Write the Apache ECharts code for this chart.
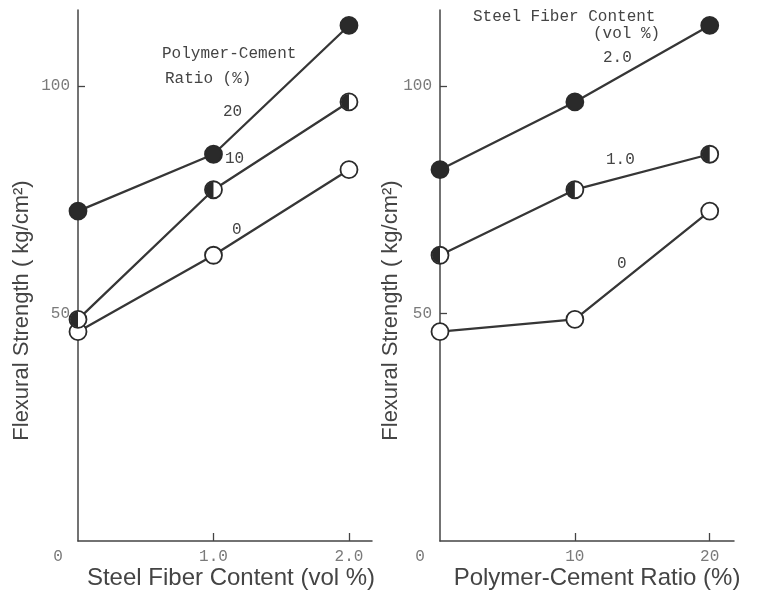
<!DOCTYPE html>
<html>
<head>
<meta charset="utf-8">
<script src="https://cdn.jsdelivr.net/npm/echarts@6/dist/echarts.min.js"></script>
<style>
  html, body { margin: 0; padding: 0; background: #fff; }
  #chart { width: 759px; height: 594px; }
</style>
</head>
<body>
<div id="chart"></div>
<script>
// Steel fiber content (vol %) and polymer-cement ratio (%)
const fiberContent = [0, 1.0, 2.0];
const polymerRatio = [0, 10, 20];

// Flexural strength (kg/cm²) for each polymer-cement ratio, over fiber content 0 / 1.0 / 2.0
const strengthPC0  = [46.0, 62.8, 81.6];
const strengthPC10 = [48.7, 77.2, 96.5];
const strengthPC20 = [72.5, 85.0, 113.3];

const yTickValues = [50, 100];
const fiberTickValues = [0, 1, 2];
const ratioTickValues = [0, 10, 20];

// same measurements grouped by fiber content, over polymer-cement ratio 0 / 10 / 20
const byRatio = [strengthPC0, strengthPC10, strengthPC20];
const strengthSF = fiberContent.map((_, j) => byRatio.map(row => row[j]));

const INK = '#2a2a2a';
const LINE = '#363636';
const MONO = '"Liberation Mono", "DejaVu Sans Mono", monospace';
const SANS = '"Liberation Sans Narrow", "Liberation Sans", sans-serif';
const MARK = 17;
// left half of a circle; the hair-thin stub at x=20 keeps the symbol box square
const HALF = 'path://M10,0 A10,10 0 0 0 10,20 Z M20,10 L20.01,10';

function lineSeries(xs, ys, kind, gi) {
  const pts = xs.map((x, i) => [x, ys[i]]);
  const out = [{
    type: 'line', xAxisIndex: gi, yAxisIndex: gi, data: pts,
    symbol: 'circle', symbolSize: MARK, showAllSymbol: true,
    lineStyle: { color: LINE, width: 2.3 },
    itemStyle: { color: kind === 'full' ? INK : '#fff', borderColor: INK, borderWidth: 1.8, opacity: 1 },
    emphasis: { disabled: true }, animation: false, z: 2
  }];
  if (kind === 'half') {
    out.push({
      type: 'scatter', xAxisIndex: gi, yAxisIndex: gi, data: pts,
      symbol: HALF, symbolSize: MARK - 1, symbolKeepAspect: true,
      itemStyle: { color: INK, opacity: 1 }, emphasis: { disabled: true }, animation: false, z: 3
    });
  }
  return out;
}

const kinds = ['open', 'half', 'full'];
let series = [];
// left: strength vs fiber content, one line per polymer-cement ratio
byRatio.forEach((ys, k) => { series = series.concat(lineSeries(fiberContent, ys, kinds[k], 0)); });
// right: strength vs polymer-cement ratio, one line per fiber content
strengthSF.forEach((ys, k) => { series = series.concat(lineSeries(polymerRatio, ys, kinds[k], 1)); });

const axisLine = { show: true, lineStyle: { color: '#444', width: 1.5 } };
const tickLabel = { color: '#7a7a7a', fontFamily: MONO, fontSize: 16 };

function yAxis(gi, gap) {
  return {
    type: 'value', gridIndex: gi, min: 0, max: 116.7, interval: 50,
    axisLine: axisLine,
    axisTick: { show: true, inside: true, length: 7, lineStyle: { color: '#444', width: 1.3 }, customValues: yTickValues },
    axisLabel: Object.assign({ customValues: yTickValues, margin: 8 }, tickLabel),
    splitLine: { show: false },
    name: 'Flexural Strength ( kg/cm²)', nameLocation: 'middle', nameGap: gap, nameMoveOverlap: false,
    nameTextStyle: { color: '#444', fontFamily: SANS, fontSize: 22, padding: [0, 70, 0, 0] }
  };
}

function xAxis(gi, max, ticks, fmt, title, pad) {
  return {
    type: 'value', gridIndex: gi, min: 0, max: max,
    axisLine: axisLine,
    axisTick: { show: true, inside: true, length: 8, lineStyle: { color: '#444', width: 1.3 }, customValues: ticks.slice(1) },
    axisLabel: Object.assign({
      customValues: ticks, margin: 8,
      formatter: v => v === 0 ? '{o|0}' : fmt(v),
      rich: { o: { padding: [0, 40, 0, 0], color: '#7a7a7a', fontFamily: MONO, fontSize: 16 } }
    }, tickLabel),
    splitLine: { show: false },
    name: title, nameLocation: 'middle', nameGap: 25, nameMoveOverlap: false,
    nameTextStyle: { color: '#444', fontFamily: SANS, fontSize: 24, padding: pad }
  };
}

function note(text, x, y) {
  return { type: 'text', left: x, top: y - 9, style: { text: text, fill: '#444', font: '16px ' + MONO } };
}

const option = {
  backgroundColor: '#fff',
  animation: false,
  grid: [
    { left: 78, right: 387, top: 10, bottom: 53, containLabel: false, outerBoundsMode: 'none' },
    { left: 440, right: 25, top: 10, bottom: 53, containLabel: false, outerBoundsMode: 'none' }
  ],
  xAxis: [
    xAxis(0, 2.17, fiberTickValues, v => v.toFixed(1), 'Steel Fiber Content (vol %)', [0, 0, 0, 12]),
    xAxis(1, 21.8, ratioTickValues, v => String(v), 'Polymer-Cement Ratio (%)', [0, 0, 0, 20])
  ],
  yAxis: [yAxis(0, 45), yAxis(1, 38)],
  series: series,
  graphic: [
    note('Polymer-Cement', 162, 55),
    note('Ratio (%)', 165, 80),
    note('20', 223, 113),
    note('10', 225, 160),
    note('0', 232, 231),
    note('Steel Fiber Content', 473, 18),
    note('(vol %)', 593, 35),
    note('2.0', 603, 59),
    note('1.0', 606, 161),
    note('0', 617, 265)
  ]
};

echarts.init(document.getElementById('chart')).setOption(option);
</script>
</body>
</html>
